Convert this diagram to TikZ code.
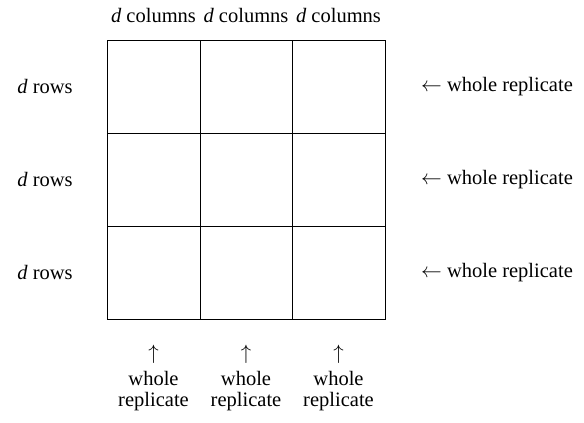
\documentclass[tikz,border=0pt]{standalone}
\usepackage{fontspec}
\setmainfont{Liberation Serif}
\begin{document}
\begin{tikzpicture}[x=1pt,y=-1pt,
  lbl/.style={inner sep=0pt,font=\fontsize{20.5}{22.5}\selectfont},
  gridline/.style={line width=0.9pt}]
\useasboundingbox (0,0) rectangle (584,423);
\draw[gridline] (107,40) rectangle (385,319);
\draw[gridline] (200,40) -- (200,319);
\draw[gridline] (292,40) -- (292,319);
\draw[gridline] (107,133) -- (385,133);
\draw[gridline] (107,226) -- (385,226);
\foreach \c/\x in {0/153.5,1/246,2/338.5}{
  \node[lbl] (top\c) at (\x,15) {\textit{d} columns};
  \node[lbl] (up\c) at (\x,354) {$\uparrow$};
  \node[lbl,align=center] (w\c) at (\x,391) {whole\\[-1pt]replicate};
}
\foreach \r/\y in {0/86.5,1/179.5,2/272.5}{
  \node[lbl] (row\r) at (45,\y) {\textit{d} rows};
  \node[lbl,anchor=west] (rep\r) at (421,\y) {$\leftarrow$ whole replicate};
}
\end{tikzpicture}
\end{document}
